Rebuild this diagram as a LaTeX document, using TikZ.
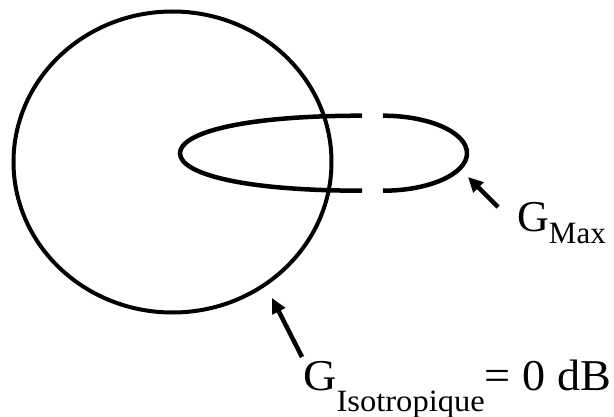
\documentclass[tikz,border=0pt]{standalone}
\usepackage{fontspec}
\setmainfont{Liberation Serif}
\usetikzlibrary{arrows.meta}
\begin{document}
\begin{tikzpicture}[x=1pt,y=-1pt,
  curve/.style={line width=4.5pt, line cap=butt},
  pointer/.style={line width=4.5pt, -{Triangle[length=15pt,width=14pt]}},
  label/.style={anchor=base west, inner sep=0pt, font=\fontsize{44}{48}\selectfont}]
\useasboundingbox (0,0) rectangle (614,417);
% isotropic circle
\draw[line width=4pt] (172.5,162) ellipse [x radius=159, y radius=150.5];
% main lobe (left part and right part, with a gap)
\draw[curve] (362,115.7) .. controls (240,115.7) and (180,133.3) .. (180,153.3)
  .. controls (180,173.3) and (240,190.7) .. (362,190.7);
\draw[curve] (383,115.7) arc[start angle=-90, end angle=90, x radius=84, y radius=37.5];
% labels
\node[label] (gmax) at (517,232) {G\raisebox{-12pt}{\fontsize{31}{34}\selectfont Max}};
\node[label] (giso) at (303,390) {\scalebox{1.05}[1]{G\raisebox{-21pt}{\fontsize{31}{34}\selectfont Isotropique}= 0 dB}};
% arrows
\coordinate (gmaxtail) at (498,207);
\coordinate (gmaxtip) at (468,177);
\coordinate (gisotail) at (302,357);
\coordinate (gisotip) at (272,298);
\draw[pointer] (gmaxtail) -- (gmaxtip);
\draw[pointer] (gisotail) -- (gisotip);
\end{tikzpicture}
\end{document}
